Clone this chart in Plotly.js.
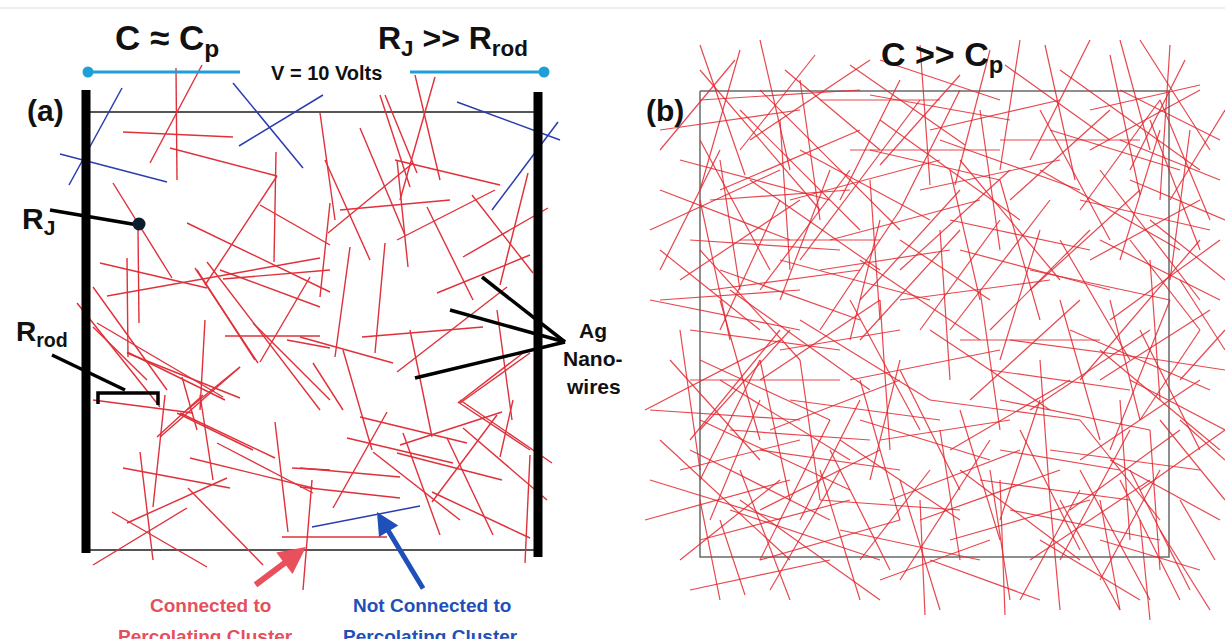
<!DOCTYPE html>
<html><head><meta charset="utf-8">
<script src="https://cdn.plot.ly/plotly-3.0.1.min.js"></script>
<style>html,body{margin:0;padding:0;background:#fff;}#chart{width:1225px;height:639px;}</style>
</head><body><div id="chart"></div>
<script>
// Panel (a): wires connected to the percolating cluster [x0,y0,x1,y1]
const redA = [
[176,68,177,180],[202,65,150,163],[123,132,233,137],[170,148,277,176],[276,152,274,262],
[277,176,205,285],[113,183,172,278],[138,228,139,323],[187,223,330,292],[260,205,330,245],
[100,263,207,288],[107,296,320,258],[127,258,128,357],[195,268,258,363],[207,262,320,410],
[77,303,160,407],[93,287,167,390],[97,323,223,397],[225,336,320,336],[205,320,200,410],
[127,353,240,398],[240,367,187,410],[260,362,310,277],[253,323,330,400],[287,340,330,348],
[415,75,440,180],[435,77,400,200],[380,95,410,187],[385,95,417,173],[320,113,335,220],
[360,128,405,235],[395,160,500,185],[397,160,408,267],[413,163,328,233],[340,210,450,200],
[397,240,495,190],[325,160,370,260],[427,207,473,300],[472,195,533,273],[463,257,548,208],
[528,173,500,285],[437,293,530,255],[385,243,375,353],[350,247,335,357],[330,203,320,297],
[362,337,483,327],[397,372,507,287],[410,330,432,437],[497,310,512,420],[460,403,530,353],
[300,337,393,363],[313,363,343,410],[343,350,372,450],[458,402,530,450],[458,403,523,353],
[360,417,467,443],[93,400,193,413],[165,395,153,507],[203,395,157,437],[200,395,213,480],
[180,413,275,458],[217,443,313,493],[190,458,313,488],[123,468,230,488],[140,452,153,560],
[112,512,207,567],[93,565,187,508],[127,523,227,478],[188,488,263,565],[275,422,288,532],
[292,468,330,470],[282,537,387,537],[312,480,303,590],[347,438,453,463],[387,412,333,508],
[400,445,502,412],[403,433,440,535],[373,452,460,520],[300,468,400,477],[300,487,400,498],
[397,453,502,480],[497,415,432,502],[447,438,493,535],[432,492,530,538],[463,428,547,500],
[460,400,552,463],[513,400,500,457],[530,455,525,563],[127,352,225,400],[160,437,240,367],
[182,377,197,430],[177,413,253,450],[197,270,255,360],[220,270,320,307],[93,327,147,380],
[223,279,330,270]
];
// Panel (a): wires not connected to the percolating cluster
const blueA = [
[69,185,122,88],[60,154,167,182],[233,83,303,168],[239,146,323,95],
[457,102,560,140],[558,122,492,210],[312,527,420,506]
];
// Panel (b): dense network
const redB = [
[700,45,745,175],[735,60,660,150],[760,40,790,170],[785,70,880,150],[815,55,740,150],
[850,65,965,145],[870,95,1010,120],[960,75,880,165],[990,50,955,185],[1005,65,1110,140],
[1045,45,1075,180],[1090,40,1030,160],[1110,55,1140,195],[1140,40,1210,150],[1185,60,1130,170],
[1200,85,1090,110],[700,100,860,90],[920,45,930,185],[1170,45,1160,200],[660,130,800,110],
[680,160,830,200],[700,140,770,270],[720,190,860,130],[780,120,790,270],[800,150,930,220],
[840,200,900,80],[870,150,1000,180],[900,210,960,90],[940,140,1080,190],[980,110,1000,250],
[1010,200,1110,110],[1050,130,1180,170],[1080,210,1160,100],[1120,140,1220,180],[1150,120,1200,250],
[1170,200,1225,110],[650,230,780,170],[740,110,860,230],
[690,240,840,250],[700,200,730,340],[750,180,880,270],[760,290,850,170],[830,240,980,200],
[870,180,880,320],[900,270,1010,170],[950,220,1090,250],[1000,180,1040,320],[1030,290,1140,190],
[1080,200,1210,230],[1120,260,1160,130],[1150,220,1225,280],[680,280,800,200],[960,160,1060,280],
[1100,170,1200,300],
[660,300,800,290],[700,250,800,360],[720,330,780,200],[780,260,930,300],[820,330,900,210],
[860,260,980,340],[900,300,1050,280],[940,230,950,380],[990,330,1090,230],[1030,270,1170,300],
[1060,240,1130,360],[1110,320,1220,240],[1150,260,1160,400],[1180,280,1225,350],[740,240,880,240],
[860,340,960,230],
[645,410,780,340],[690,330,840,350],[720,300,760,440],[760,380,880,300],[800,320,930,400],
[850,380,1000,350],[880,300,890,450],[930,330,1050,410],[970,400,1080,300],[1010,340,1160,360],
[1060,300,1100,440],[1100,380,1210,310],[1140,330,1200,450],[1160,360,1225,370],[700,360,830,420],
[980,290,1000,430],
[650,410,800,420],[690,440,780,330],[720,380,850,460],[770,430,900,380],[800,360,820,500],
[860,420,990,460],[900,370,960,490],[950,450,1070,380],[1000,400,1150,430],[1040,360,1050,500],
[1080,460,1200,380],[1120,400,1130,540],[1160,420,1225,500],[700,480,760,360],[930,400,1080,420],
[1100,350,1220,450],
[645,520,790,480],[690,450,830,520],[710,520,760,400],[760,450,900,470],[800,520,860,400],
[840,440,960,520],[890,500,1020,450],[940,430,960,560],[980,480,1130,500],[1020,430,1080,550],
[1070,510,1180,430],[1110,460,1220,520],[1150,430,1160,570],[730,430,870,440],[870,480,900,360],
[1000,520,1040,400],
[680,560,780,480],[700,500,720,600],[730,510,880,560],[770,590,840,470],[820,500,960,510],
[860,560,930,470],[900,480,940,610],[950,540,1090,500],[990,470,1010,600],[1030,560,1150,480],
[1060,500,1120,610],[1100,540,1200,570],[1130,470,1190,590],[1180,500,1215,560],[740,470,790,600],
[840,530,980,560],
[690,590,830,560],[720,520,745,595],[920,500,925,615],[1000,480,1005,615],[1050,500,1060,610],
[1080,470,1150,600],[1120,480,1180,600],[1140,520,1150,620],
[660,190,790,240],[760,90,900,230],[820,100,940,100],[930,130,1060,100],[1040,110,1110,240],
[1120,90,1220,140],[660,270,720,150],[790,200,940,160],[950,170,980,300],[1090,260,1200,200],
[720,270,860,320],[900,240,990,300],[1040,230,1000,360],[1130,240,1200,330],[670,360,760,460],
[780,350,900,330],[850,300,920,430],[960,340,1100,340],[1110,300,1140,420],[1170,300,1110,450],
[680,470,800,440],[760,360,790,500],[880,440,1010,420],[1000,450,1120,470],[1130,380,1225,430],
[700,540,850,500],[830,450,890,570],[960,470,1080,560],[1050,450,1200,470],[1160,470,1100,580],
[740,500,880,600],[880,580,990,540],[1020,600,1080,490],[1100,500,1120,610],[1180,420,1225,460],
[650,300,800,330],[660,250,760,330],[700,70,820,210],[710,200,850,190],[750,140,870,60],
[780,300,830,170],[820,270,950,250],[880,120,1020,220],[920,190,1060,160],[960,250,1110,290],
[1000,140,1140,140],[1040,170,1180,250],[1090,150,1200,90],[1130,180,1225,220],[1160,100,1210,220],
[690,380,840,380],[730,290,870,390],[790,400,940,420],[850,340,880,220],[920,330,1000,220],
[990,370,1130,390],[1030,410,1150,330],[1070,330,1210,390],[1140,420,1200,330],[660,440,790,560],
[700,420,850,490],[760,510,880,450],[820,470,860,600],[860,380,900,520],[920,520,1060,470],
[960,410,1000,540],[1010,510,1160,540],[1080,420,1160,520],[1140,490,1225,430],[1160,530,1210,610],
[680,330,700,470],[720,160,740,290],[800,80,820,220],[1060,70,1200,170],[1190,130,1170,280],
[850,150,1000,150],[710,290,860,270],[1100,240,1220,300],[930,560,1040,600],[1040,540,1140,600],
[760,560,900,520],[650,480,780,520],[1180,380,1225,330],[880,60,1000,100],[1020,40,1000,170],
[740,50,700,190],[1120,40,1150,150],[920,100,800,260],[1050,200,950,330],[1200,240,1080,380],
[830,420,760,560],[990,440,900,580],[1130,430,1060,560],[790,330,700,430],[960,190,860,300]
];
// Annotation pointer lines (black)
const pointers = [
[50,210,138,225],[52,355,125,390],
[482,277,565,342],[450,310,565,342],[415,378,565,342]
];
const bracketX = [98,98,158,158];
const bracketY = [404,393,393,405];
const voltX = [[88,240],[410,544]];
const voltY = [[72,72],[72,72]];

function segs(list){
  const x=[],y=[];
  list.forEach(s=>{x.push(s[0],s[2],null);y.push(s[1],s[3],null);});
  return {x,y};
}
const traces=[];
traces.push({x:[700,1169,1169,700,700],y:[91,91,557,557,91],mode:'lines',line:{color:'#6a6a6a',width:1.5},hoverinfo:'skip'});
traces.push({x:[90,538,null,90,538],y:[112,112,null,550,550],mode:'lines',line:{color:'#555',width:2},hoverinfo:'skip'});
const rb=segs(redB);
traces.push({x:rb.x,y:rb.y,mode:'lines',line:{color:'rgba(226,40,48,0.85)',width:1.2},hoverinfo:'skip'});
const ra=segs(redA);
traces.push({x:ra.x,y:ra.y,mode:'lines',line:{color:'#e0303a',width:1.4},hoverinfo:'skip'});
const ba=segs(blueA);
traces.push({x:ba.x,y:ba.y,mode:'lines',line:{color:'#2a3db0',width:1.5},hoverinfo:'skip'});
traces.push({x:[86,86,null,538,538],y:[90,553,null,92,557],mode:'lines',line:{color:'#000',width:9},hoverinfo:'skip'});
traces.push({x:[voltX[0][0],voltX[0][1],null,voltX[1][0],voltX[1][1]],y:[voltY[0][0],voltY[0][1],null,voltY[1][0],voltY[1][1]],mode:'lines',line:{color:'#1e9fd8',width:3},hoverinfo:'skip'});
traces.push({x:[voltX[0][0],voltX[1][1]],y:[voltY[0][0],voltY[1][1]],mode:'markers',marker:{color:'#1e9fd8',size:11},hoverinfo:'skip'});
const pt=segs(pointers);
traces.push({x:pt.x,y:pt.y,mode:'lines',line:{color:'#000',width:3.5},hoverinfo:'skip'});
traces.push({x:bracketX,y:bracketY,mode:'lines',line:{color:'#000',width:3.5},hoverinfo:'skip'});
traces.push({x:[139],y:[224],mode:'markers',marker:{color:'#0b1e2e',size:13},hoverinfo:'skip'});

const F='Arial, "Liberation Sans", sans-serif';
function T(x,y,text,size,color,extra){return Object.assign({x,y,xref:'x',yref:'y',text,showarrow:false,font:{family:F,size,color:color||'#111'},xanchor:'center',yanchor:'middle'},extra||{});}
const ann=[
T(167,40,'<b>C ≈ C<sub>p</sub></b>',35),
T(453,40,'<b>R<sub>J</sub> >> R<sub>rod</sub></b>',32),
T(326,73,'<b>V = 10 Volts</b>',20),
T(45,110,'<b>(a)</b>',30),
T(665,110,'<b>(b)</b>',30),
T(942,56,'<b>C >> C<sub>p</sub></b>',34),
T(38,220,'<b>R<sub>J</sub></b>',30),
T(42,333,'<b>R<sub>rod</sub></b>',28),
T(593,330,'<b>Ag</b>',21),
T(593,358,'<b>Nano-</b>',21),
T(593,386,'<b>wires</b>',21),
T(210,605,'<b>Connected to</b>',19,'#e4505c'),
T(205,636,'<b>Percolating Cluster</b>',19,'#e4505c'),
T(432,605,'<b>Not Connected to</b>',19,'#2150b8'),
T(430,636,'<b>Percolating Cluster</b>',19,'#2150b8'),
{x:306,y:547,ax:254,ay:586,xref:'x',yref:'y',axref:'x',ayref:'y',text:'',showarrow:true,arrowhead:2,arrowsize:0.9,arrowwidth:6,arrowcolor:'#e8505b'},
{x:377,y:512,ax:424,ay:590,xref:'x',yref:'y',axref:'x',ayref:'y',text:'',showarrow:true,arrowhead:2,arrowsize:0.9,arrowwidth:5,arrowcolor:'#1f4fb8'}
];
const layout={
  width:1225,height:639,margin:{l:0,r:0,t:0,b:0},paper_bgcolor:'#fff',plot_bgcolor:'#fff',showlegend:false,
  xaxis:{range:[0,1225],visible:false,fixedrange:true},
  yaxis:{range:[639,0],visible:false,fixedrange:true},
  shapes:[{type:'line',xref:'x',yref:'y',x0:0,x1:1225,y0:8,y1:8,line:{color:'#eeeeee',width:2}}],
  annotations:ann
};
Plotly.newPlot('chart',traces,layout,{staticPlot:true,displayModeBar:false});
</script></body></html>
